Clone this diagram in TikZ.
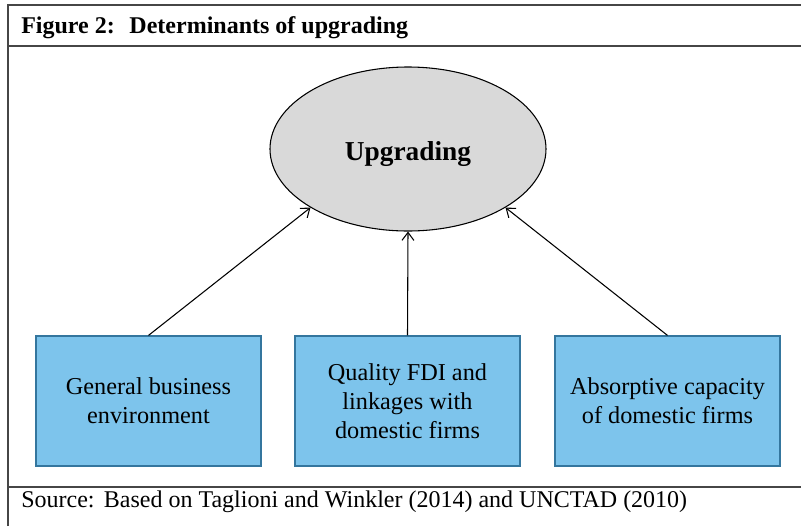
\documentclass[tikz,border=0pt]{standalone}
\usepackage{fontspec}
\setmainfont{Liberation Serif}
\usepackage{tikz}
\usetikzlibrary{shapes.geometric,arrows.meta}
\pgfdeclarelayer{bg}
\pgfsetlayers{bg,main}
\definecolor{boxblue}{RGB}{125,196,236}
\definecolor{boxedge}{RGB}{52,118,158}
\definecolor{ovalgrey}{RGB}{217,217,217}
\definecolor{rulegrey}{RGB}{70,70,70}
\tikzset{
        factor/.style={draw=boxedge, fill=boxblue, line width=0.9pt, minimum width=168.75pt,
                minimum height=97.5pt, align=center, font=\fontsize{18.2}{21.8}\selectfont},
        goal/.style={ellipse, draw, fill=ovalgrey, line width=0.8pt, minimum width=207pt,
                minimum height=123pt, text height=16.5pt, text depth=0pt,
                font=\fontsize{20.5}{24}\selectfont\bfseries},
        push/.style={-{Straight Barb[length=6pt,width=9pt]}, line width=0.8pt},
        frame/.style={rulegrey, line width=1.1pt}
}

\begin{document}
\begin{tikzpicture}[x=0.75pt,y=-0.75pt]
        \useasboundingbox (0,0) rectangle (801,526);
        \node (upg) [goal] at (408,149) {Upgrading};
        \node (gbe) [factor] at (148.5,401) {General business\\environment};
        \node (fdi) [factor] at (407.5,401) {Quality FDI and\\linkages with\\domestic firms};
        \node (abs) [factor] at (667.5,401) {Absorptive capacity\\of domestic firms};
        \node (title) [anchor=base west, inner sep=0pt, font=\fontsize{18}{21}\selectfont\bfseries] at (21,33)
                {Figure 2:\hspace{11pt}Determinants of upgrading};
        \node (src) [anchor=base west, inner sep=0pt, font=\fontsize{18}{21}\selectfont] at (21,507)
                {Source:\hspace{7pt}Based on Taglioni and Winkler (2014) and UNCTAD (2010)};
        \coordinate (tl) at (8,5);
        \coordinate (tr) at (801,5);
        \coordinate (bl) at (8,526);
        \coordinate (hl) at (8,46);
        \coordinate (hr) at (801,46);
        \coordinate (fl) at (8,487);
        \coordinate (fr) at (801,487);
        \begin{pgfonlayer}{bg}
                \draw [frame] (bl) -- (tl) -- (tr);
                \draw [frame] (hl) -- (hr);
                \draw [frame] (fl) -- (fr);
        \end{pgfonlayer}
        \draw [push] (gbe.north) -- (upg.211);
        \draw [push] (fdi.north) -- (upg.south);
        \draw [push] (abs.north) -- (upg.329);
\end{tikzpicture}
\end{document}
